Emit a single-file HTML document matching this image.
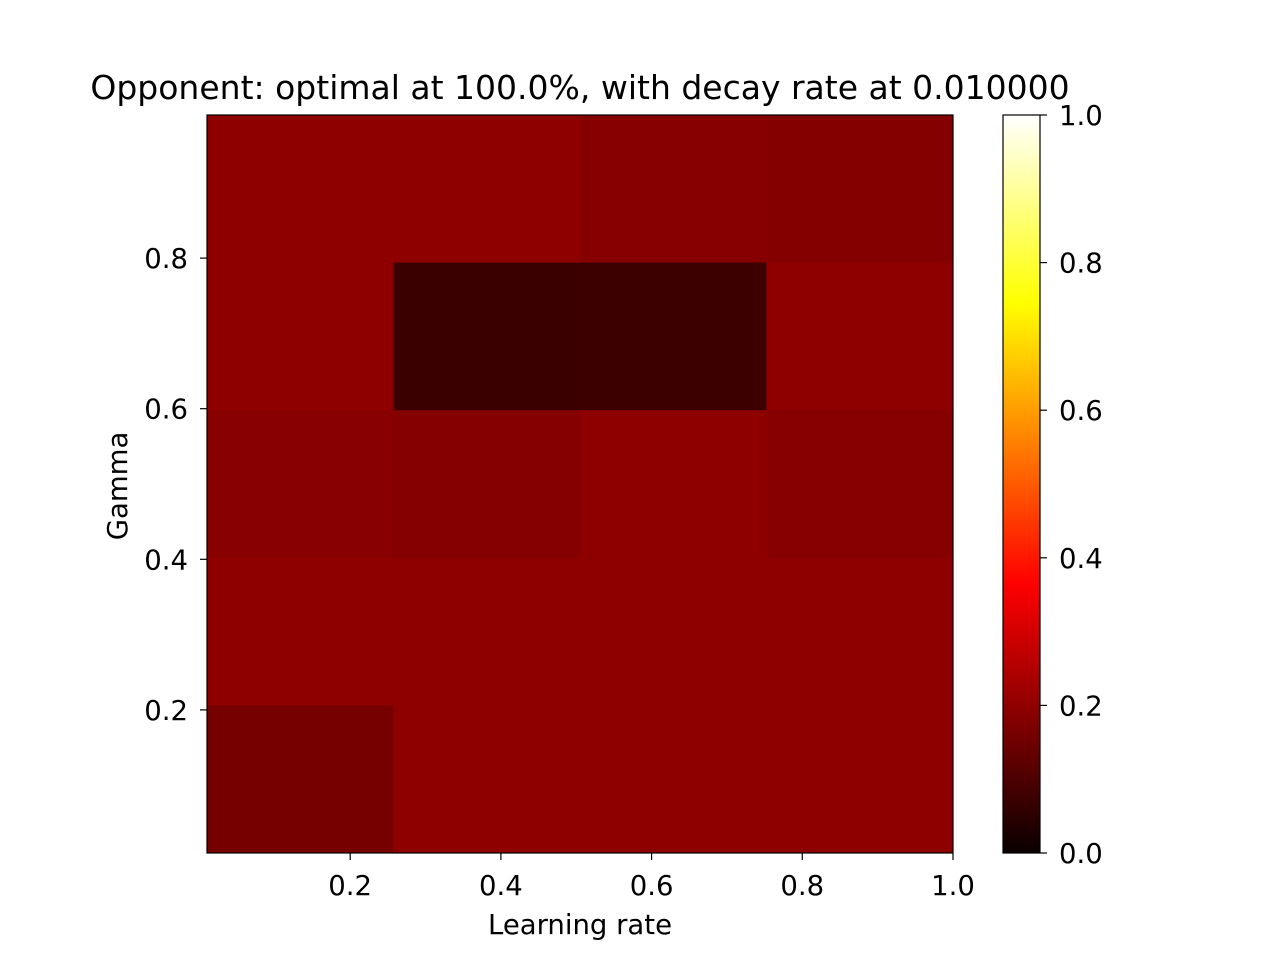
<!DOCTYPE html>
<html><head><meta charset="utf-8"><style>
html,body{margin:0;padding:0;background:#fff;}
svg text{font-family:"DejaVu Sans","Liberation Sans",sans-serif;fill:#000;}
.title{font-size:33px;}
.lbl{font-size:27.5px;}
</style></head><body>
<svg id="chart" width="1280" height="960" xmlns="http://www.w3.org/2000/svg">
<defs>
<linearGradient id="hot" x1="0" y1="1" x2="0" y2="0">
<stop offset="0" stop-color="#0a0000"/>
<stop offset="0.365" stop-color="#ff0000"/>
<stop offset="0.746" stop-color="#ffff00"/>
<stop offset="1" stop-color="#ffffff"/>
</linearGradient>
</defs>
<rect width="1280" height="960" fill="#fff"/>
<text x="580" y="99" class="title" text-anchor="middle">Opponent: optimal at 100.0%, with decay rate at 0.010000</text>
<g id="cells"></g>
<rect x="207" y="115" width="746" height="738" fill="none" stroke="#000" stroke-width="1.2"/>
<g id="xticks"></g>
<g id="yticks"></g>
<text x="580" y="934" class="lbl" text-anchor="middle">Learning rate</text>
<text transform="translate(127,486) rotate(-90)" class="lbl" text-anchor="middle">Gamma</text>
<rect x="1003" y="115" width="37" height="738" fill="url(#hot)" stroke="#000" stroke-width="1.2"/>
<g id="cbticks"></g>
</svg>
<script>
// grid values, rows from top (gamma high) to bottom
const row1 = [0.2033, 0.2033, 0.1932, 0.1890];
const row2 = [0.2033, 0.0830, 0.0873, 0.2033];
const row3 = [0.1947, 0.1904, 0.2033, 0.1932];
const row4 = [0.2033, 0.2033, 0.2033, 0.2033];
const row5 = [0.1690, 0.2033, 0.2033, 0.2033];
const xTicks = [0.2, 0.4, 0.6, 0.8, 1.0];
const yTicks = [0.2, 0.4, 0.6, 0.8];
const cbTicks = [0.0, 0.2, 0.4, 0.6, 0.8, 1.0];
const xMin = 0.01, xMax = 1.0, yMin = 0.01, yMax = 0.99;

const grid = [row1, row2, row3, row4, row5];
const NS = 'http://www.w3.org/2000/svg';
const px0 = 207, px1 = 953, py0 = 853, py1 = 115;
const sx = v => px0 + (v - xMin) / (xMax - xMin) * (px1 - px0);
const sy = v => py0 - (v - yMin) / (yMax - yMin) * (py0 - py1);
const cy = v => 853 - v * 738;
function hot(v) {
  const c = t => Math.round(Math.max(0, Math.min(1, t)) * 255);
  const r = c(v / 0.365079), g = c((v - 0.365079) / 0.380953), b = c((v - 0.746032) / 0.253968);
  return `rgb(${r},${g},${b})`;
}
function mk(tag, attrs, parent) {
  const e = document.createElementNS(NS, tag);
  for (const k in attrs) e.setAttribute(k, attrs[k]);
  parent.appendChild(e);
  return e;
}
const cells = document.getElementById('cells');
const nr = grid.length, nc = grid[0].length;
const cw = (xMax - xMin) / nc, ch = (yMax - yMin) / nr;
grid.forEach((row, i) => row.forEach((v, j) => {
  const xa = sx(xMin + j * cw), xb = sx(xMin + (j + 1) * cw);
  const ya = sy(yMax - i * ch), yb = sy(yMax - (i + 1) * ch);
  const r = mk('rect', {x: xa, y: ya, width: xb - xa + 0.5, height: yb - ya + 0.5, fill: hot(v)}, cells);
  
  
}));
const xg = document.getElementById('xticks');
xTicks.forEach(t => {
  const x = sx(t);
  const l = mk('line', {x1: x, x2: x, y1: 853, y2: 860, stroke: '#000', 'stroke-width': 1.2}, xg);
  
  
  const tx = mk('text', {x: x, y: 895, 'class': 'lbl', 'text-anchor': 'middle'}, xg);
  tx.textContent = t.toFixed(1);
  
  
});
const yg = document.getElementById('yticks');
yTicks.forEach(t => {
  const y = sy(t);
  const l = mk('line', {x1: 200, x2: 207, y1: y, y2: y, stroke: '#000', 'stroke-width': 1.2}, yg);
  
  
  const tx = mk('text', {x: 188, y: y + 10, 'class': 'lbl', 'text-anchor': 'end'}, yg);
  tx.textContent = t.toFixed(1);
  
  
});
const cg = document.getElementById('cbticks');
cbTicks.forEach(t => {
  const y = cy(t);
  const l = mk('line', {x1: 1040, x2: 1047, y1: y, y2: y, stroke: '#000', 'stroke-width': 1.2}, cg);
  
  
  const tx = mk('text', {x: 1059, y: y + 10, 'class': 'lbl'}, cg);
  tx.textContent = t.toFixed(1);
  
  
});
</script>
</body></html>
